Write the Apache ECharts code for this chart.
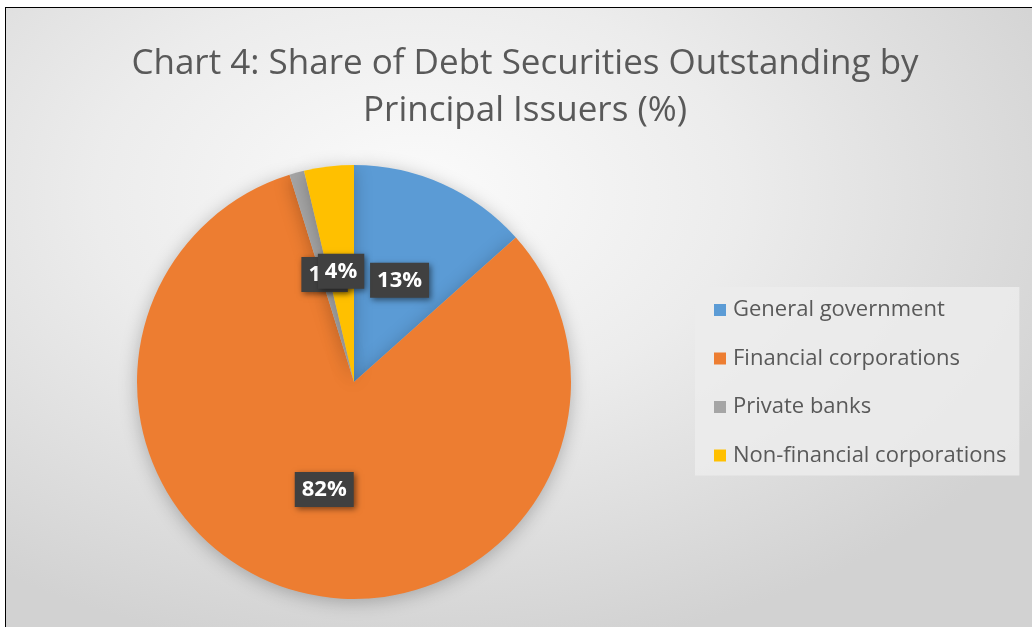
<!DOCTYPE html>
<html>
<head>
<meta charset="utf-8">
<script src="https://cdn.jsdelivr.net/npm/echarts@6/dist/echarts.min.js"></script>
<style>
html,body{margin:0;padding:0;width:1032px;height:627px;background:#fff;overflow:hidden;}
#wrap{position:absolute;left:5px;top:7px;width:1027px;height:620px;border-top:1px solid #000;border-left:1px solid #000;
background:radial-gradient(ellipse 70% 75% at 40% 30%, #fbfbfb 0%, #ececec 45%, #d2d2d2 100%);}
#main{width:1026px;height:619px;}
</style>
</head>
<body>
<div id="wrap"><div id="main"></div></div>
<script>
const titleText = 'Chart 4: Share of Debt Securities Outstanding by\nPrincipal Issuers (%)';
const categories = ['General government', 'Financial corporations', 'Private banks', 'Non-financial corporations'];
const values = [13.4, 81.8, 1.1, 3.7];
const colors = ['#5B9BD5', '#ED7D31', '#A5A5A5', '#FFC000'];

const chart = echarts.init(document.getElementById('main'));
chart.setOption({
  backgroundColor: 'transparent',
  title: {
    text: titleText,
    left: 514,
    top: 28,
    textAlign: 'center',
    textStyle: { fontFamily: 'Open Sans', fontWeight: 'normal', fontSize: 35, color: '#595959', lineHeight: 47 }
  },
  legend: {
    orient: 'vertical',
    left: 689,
    top: 279,
    itemWidth: 12,
    itemHeight: 12,
    itemGap: 24.5,
    padding: [11, 13, 8, 19],
    backgroundColor: 'rgba(236,236,236,0.85)',
    icon: 'rect',
    data: categories,
    textStyle: { fontFamily: 'Open Sans', fontSize: 22, lineHeight: 24, color: '#595959', padding: [0, 0, 0, 2] }
  },
  series: [{
    type: 'pie',
    center: [348, 374],
    radius: 217,
    startAngle: 90,
    clockwise: true,
    avoidLabelOverlap: false,
    labelLayout: { hideOverlap: false },
    itemStyle: { shadowBlur: 18, shadowColor: 'rgba(0,0,0,0.25)', shadowOffsetY: 3 },
    label: {
      show: true,
      position: 'inside',
      formatter: p => Math.round(p.value) + '%',
      fontFamily: 'Open Sans',
      fontSize: 22,
      fontWeight: 'bold',
      color: '#fff',
      backgroundColor: '#404040',
      padding: [7, 7, 6, 7],
      shadowBlur: 6,
      shadowColor: 'rgba(0,0,0,0.5)',
      shadowOffsetX: 2,
      shadowOffsetY: 2
    },
    labelLine: { show: false },
    emphasis: { disabled: true },
    data: categories.map((c, i) => ({ name: c, value: values[i], itemStyle: { color: colors[i] } }))
  }]
});
</script>
</body>
</html>
